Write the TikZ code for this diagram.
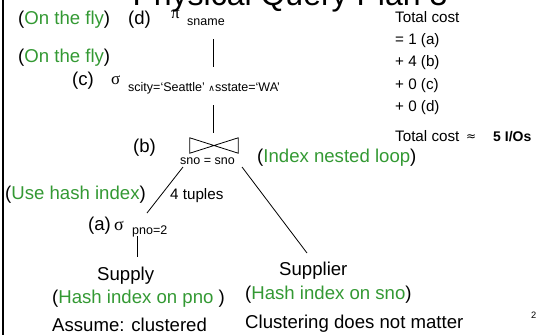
\documentclass[tikz,border=0pt]{standalone}
\usepackage{fontspec}
\setmainfont{Liberation Sans}
\newfontfamily\symf{Liberation Serif}
\newfontfamily\dejavu{DejaVu Sans}
\definecolor{grn}{RGB}{51,153,51}
\tikzset{
  lbl/.style={inner sep=0, anchor=base west, font=\fontsize{18.6}{22}\selectfont},
  costtxt/.style={inner sep=0, anchor=base west, font=\fontsize{15.2}{18}\selectfont},
  subtxt/.style={inner sep=0, anchor=base west, font=\fontsize{12.5}{15}\selectfont},
  greek/.style={inner sep=0, anchor=base west, font=\symf\fontsize{17}{20}\selectfont},
  edge/.style={line width=0.8pt},
  joinbox/.style={inner sep=0, minimum width=48pt, minimum height=15pt}
}
\begin{document}
\begin{tikzpicture}[x=1pt,y=-1pt]
\useasboundingbox (0,0) rectangle (538,335);
\clip (0,0) rectangle (538,335);
% title, cut off at the top
\node[inner sep=0, anchor=base, font=\fontsize{32}{36}\selectfont] (title) at (290,5) {Physical Query Plan 3};
% left border
\draw[line width=2.3pt] (3,0) -- (3,335);

% (d) projection
\node[lbl] (fly1) at (18,24) {(\textcolor{grn}{On the fly})};
\node[lbl] (d) at (128,24) {(d)};
\node[greek, font=\symf\fontsize{17}{20}\selectfont] (pi) at (171,18) {π};
\node[subtxt] (sname) at (187,25) {sname};

% (c) selection
\node[lbl] (fly2) at (18,62) {(\textcolor{grn}{On the fly})};
\node[lbl] (c) at (72,85) {(c)};
\node[greek] (sigc) at (111,84) {σ};
\node[subtxt] (condc) at (128,91) {scity=‘Seattle’ {\dejavu\fontsize{9}{11}\selectfont∧}sstate=‘WA’};

% cost column
\node[costtxt] (tc) at (395,22) {Total cost};
\node[costtxt] (ca) at (395,44) {= 1 (a)};
\node[costtxt] (cb) at (395,66) {+ 4 (b)};
\node[costtxt] (cc) at (395,89) {+ 0 (c)};
\node[costtxt] (cd) at (395,111) {+ 0 (d)};
\node[costtxt] (tot) at (395,141) {Total cost};
\node[costtxt, font=\dejavu\fontsize{12}{14}\selectfont] (approx) at (466,140) {≈};
\node[costtxt, font=\bfseries\fontsize{14}{17}\selectfont] (ios) at (493,141) {5 I/Os};

% (b) join
\node[lbl] (b) at (133,152) {(b)};
\node[joinbox] (join) at (214,145.5) {};
\draw[edge] (join.north west) -- (join.south west) -- (join.north east) -- (join.south east) -- cycle;
\node[subtxt] (jcond) at (180,164) {sno = sno};
\node[lbl] (inl) at (257,162) {(\textcolor{grn}{Index nested loop})};

% (a) selection
\node[lbl] (uhi) at (5,199) {(\textcolor{grn}{Use hash index})};
\node[costtxt] (tuples) at (170,199) {4 tuples};
\node[lbl] (a) at (88,230) {(a)};
\node[greek, font=\symf\fontsize{18}{21}\selectfont] (siga) at (114,230) {σ};
\node[subtxt] (conda) at (132,234) {pno=2};

% relations
\node[lbl] (supply) at (97,280) {Supply};
\node[lbl] (hpno) at (52,303) {(\textcolor{grn}{Hash index on pno} )};
\node[lbl] (clus) at (52,331) {Assume: clustered};
\node[lbl] (supplier) at (279,275) {Supplier};
\node[lbl] (hsno) at (245,299) {(\textcolor{grn}{Hash index on sno})};
\node[lbl] (nomat) at (245,328) {Clustering does not matter};
\node[inner sep=0, anchor=base west, font=\fontsize{9.3}{11}\selectfont] (pg) at (531,318) {2};

% connectors
\coordinate (piE) at (213,39);
\coordinate (sigcT) at (213,67);
\coordinate (sigcB) at (213,105);
\coordinate (joinT) at (213,133);
\coordinate (joinL) at (183,167);
\coordinate (sigaT) at (147,213);
\coordinate (joinR) at (242,167);
\coordinate (supplierT) at (307,253);
\coordinate (sigaB) at (137,236);
\coordinate (supplyT) at (137,257);
\draw[edge] (piE) -- (sigcT);
\draw[edge] (sigcB) -- (joinT);
\draw[edge] (joinL) -- (sigaT);
\draw[edge] (joinR) -- (supplierT);
\draw[edge] (sigaB) -- (supplyT);
\end{tikzpicture}
\end{document}
